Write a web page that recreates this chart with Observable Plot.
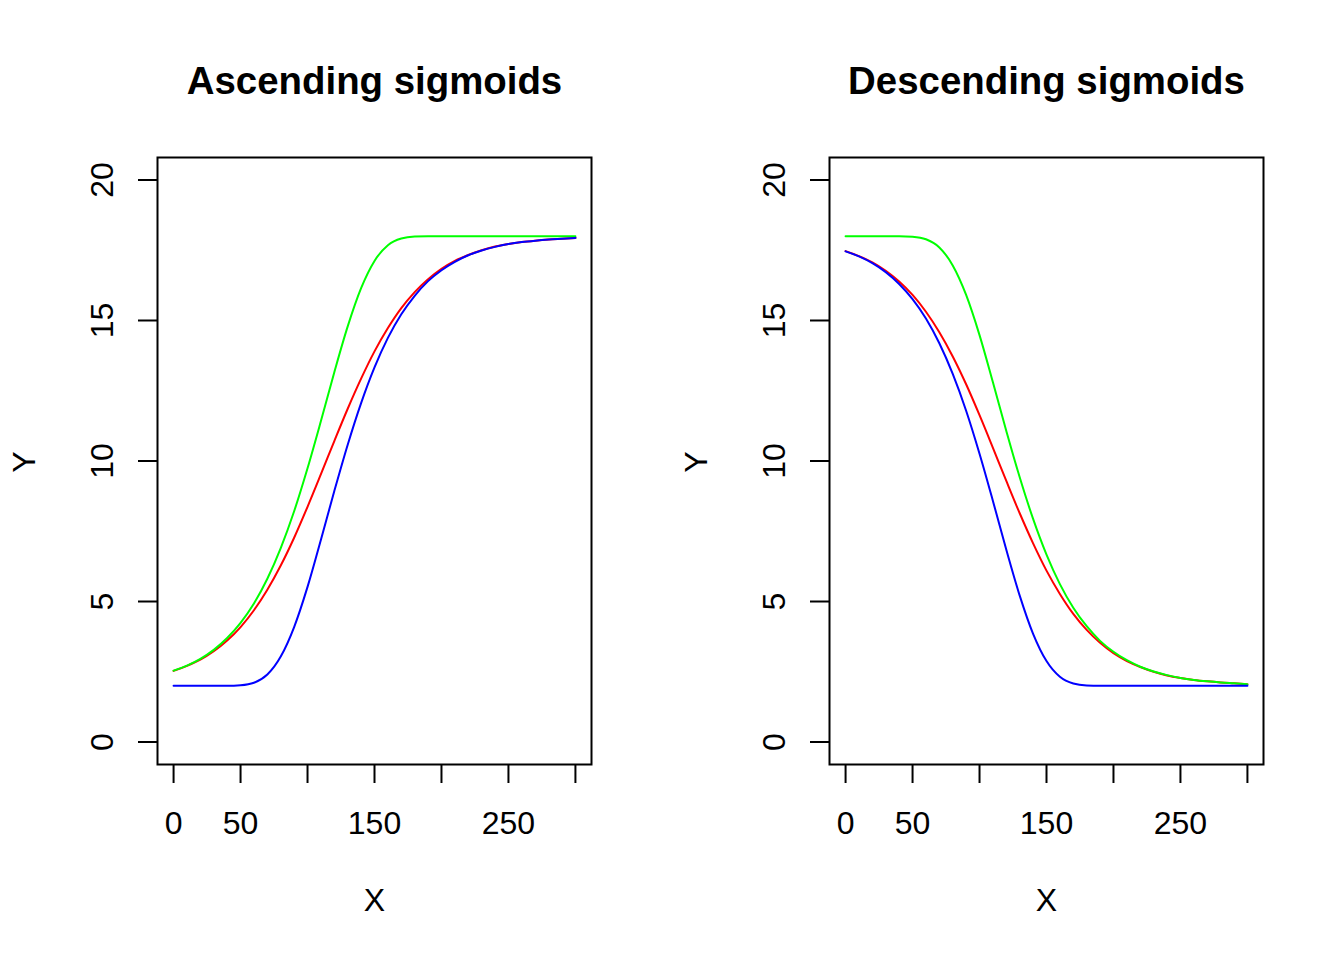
<!DOCTYPE html>
<html><head><meta charset="utf-8">
<script src="https://cdn.jsdelivr.net/npm/d3@7"></script>
<script src="https://cdn.jsdelivr.net/npm/@observablehq/plot@0.6"></script>
<style>
html,body{margin:0;padding:0;background:#fff;}
#wrap{display:flex;width:1344px;height:960px;}
#wrap svg{display:block;}
</style></head><body><div id="wrap"></div>
<script>
// x positions (shared by all series)
const xValues = [0,10,20,30,40,50,60,70,80,90,100,110,120,130,140,150,160,170,180,190,200,210,220,230,240,250,260,270,280,290,300];

// Ascending sigmoids
const ascRed   = [2.53,2.71,2.93,3.23,3.61,4.09,4.69,5.42,6.28,7.27,8.37,9.53,10.71,11.86,12.93,13.90,14.73,15.44,16.01,16.47,16.84,17.12,17.33,17.50,17.63,17.72,17.79,17.84,17.88,17.91,17.94];
const ascGreen = [2.54,2.72,2.96,3.28,3.70,4.24,4.93,5.81,6.90,8.21,9.74,11.42,13.16,14.79,16.15,17.12,17.68,17.92,17.99,18.00,18.00,18.00,18.00,18.00,18.00,18.00,18.00,18.00,18.00,18.00,18.00];
const ascBlue  = [2.00,2.00,2.00,2.00,2.00,2.02,2.11,2.40,3.04,4.09,5.52,7.20,8.93,10.58,12.06,13.33,14.38,15.22,15.88,16.40,16.79,17.09,17.32,17.49,17.62,17.72,17.79,17.84,17.88,17.91,17.94];

// Descending sigmoids
const descRed   = [17.47,17.29,17.07,16.77,16.39,15.91,15.31,14.58,13.72,12.73,11.63,10.47,9.29,8.14,7.07,6.10,5.27,4.56,3.99,3.53,3.16,2.88,2.67,2.50,2.37,2.28,2.21,2.16,2.12,2.09,2.06];
const descGreen = [18.00,18.00,18.00,18.00,18.00,17.98,17.89,17.60,16.96,15.91,14.48,12.80,11.07,9.42,7.94,6.67,5.62,4.78,4.12,3.60,3.21,2.91,2.68,2.51,2.38,2.28,2.21,2.16,2.12,2.09,2.06];
const descBlue  = [17.46,17.28,17.04,16.72,16.30,15.76,15.07,14.19,13.10,11.79,10.26,8.58,6.84,5.21,3.85,2.88,2.32,2.08,2.01,2.00,2.00,2.00,2.00,2.00,2.00,2.00,2.00,2.00,2.00,2.00,2.00];

const seriesNames = ["red", "green", "blue"];
const seriesColors = ["#FF0000", "#00FF00", "#0000FF"];
const xTicks = [0,50,100,150,200,250,300];
const xTickLabels = [0,50,150,250];
const yTicks = [0,5,10,15,20];
const titles = ["Ascending sigmoids", "Descending sigmoids"];
const xLabel = "X";
const yLabel = "Y";

function panel(title, ys) {
  const lines = seriesNames.map((name, i) =>
    Plot.line(xValues.map((x, j) => ({x, y: ys[i][j]})), {
      x: "x", y: "y", stroke: seriesColors[i], strokeWidth: 2, curve: "monotone-x"
    })
  );
  return Plot.plot({
    width: 672, height: 960,
    marginLeft: 157, marginRight: 81, marginTop: 157, marginBottom: 196,
    x: {domain: [-12, 312]},
    y: {domain: [-0.8, 20.8]},
    style: {fontFamily: "'Liberation Sans', Arial, Helvetica, sans-serif", fontSize: "32px", background: "white", color: "black", overflow: "visible"},
    marks: [
      Plot.axisX({ticks: xTicks, tickSize: 19, tickPadding: 28, strokeWidth: 2, label: null,
        tickFormat: d => xTickLabels.includes(d) ? String(d) : ""}),
      Plot.axisY({ticks: yTicks, tickSize: 19, tickPadding: 26, tickRotate: -90, strokeWidth: 2, label: null}),
      ...lines,
      Plot.frame({stroke: "black", strokeWidth: 2}),
      Plot.text([title], {frameAnchor: "top", dy: -64, lineAnchor: "bottom", fontSize: 38.4, fontWeight: "bold"}),
      Plot.text([xLabel], {frameAnchor: "bottom", dy: 146, lineAnchor: "bottom", fontSize: 32}),
      Plot.text([yLabel], {frameAnchor: "left", dx: -123, dy: 1, rotate: -90, textAnchor: "middle", lineAnchor: "bottom", fontSize: 32})
    ]
  });
}

const wrap = document.getElementById("wrap");
wrap.appendChild(panel(titles[0], [ascRed, ascGreen, ascBlue]));
wrap.appendChild(panel(titles[1], [descRed, descGreen, descBlue]));
</script>
</body></html>
